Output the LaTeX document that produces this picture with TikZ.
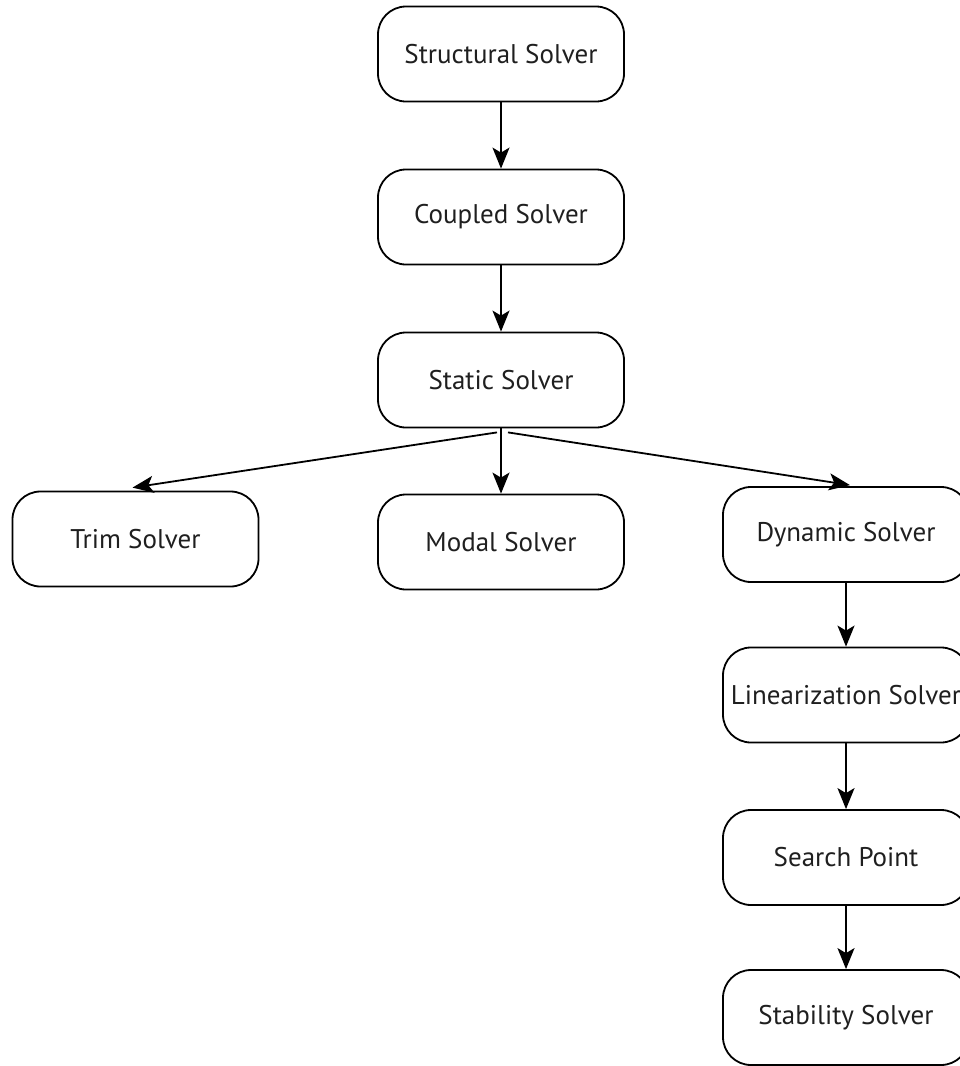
\documentclass[tikz,border=0pt]{standalone}
\usepackage{fontspec}
\setmainfont{PT Sans}
\usetikzlibrary{arrows.meta}
\begin{document}
\begin{tikzpicture}[x=1pt,y=-1pt,
  solver/.style={draw, line width=1.8pt, rounded corners=28pt,
    minimum width=246pt, minimum height=95pt, inner sep=0pt,
    font=\fontsize{27}{30}\selectfont, text=black!88},
  link/.style={line width=1.8pt, -{Stealth[length=21pt,width=17pt,inset=5pt]}}
]
\useasboundingbox (0,0) rectangle (959,1066);

\node[solver] (structural) at (501,54)    {Structural Solver};
\node[solver] (coupled)    at (501,217)   {Coupled Solver};
\node[solver] (static)     at (501,380)   {Static Solver};
\node[solver] (trim)       at (135.5,539) {Trim Solver};
\node[solver] (modal)      at (501,542)   {Modal Solver};
\node[solver] (dynamic)    at (846,534.5) {Dynamic Solver};
\node[solver] (linear)     at (846,695)   {Linearization Solver};
\node[solver] (search)     at (846,857.5) {Search Point};
\node[solver] (stability)  at (846,1017.5){Stability Solver};

\draw[link] (structural) -- (coupled);
\draw[link] (coupled) -- (static);
\draw[link] (static) -- (modal);
\draw[link] ([xshift=-4pt,yshift=-4pt]static.south) -- ([xshift=-3pt,yshift=3pt]trim.north);
\draw[link] ([xshift=7pt,yshift=-4pt]static.south) -- ([xshift=4pt,yshift=1pt]dynamic.north);
\draw[link] (dynamic) -- (linear);
\draw[link] (linear) -- (search);
\draw[link] (search) -- (stability);
\end{tikzpicture}
\end{document}
